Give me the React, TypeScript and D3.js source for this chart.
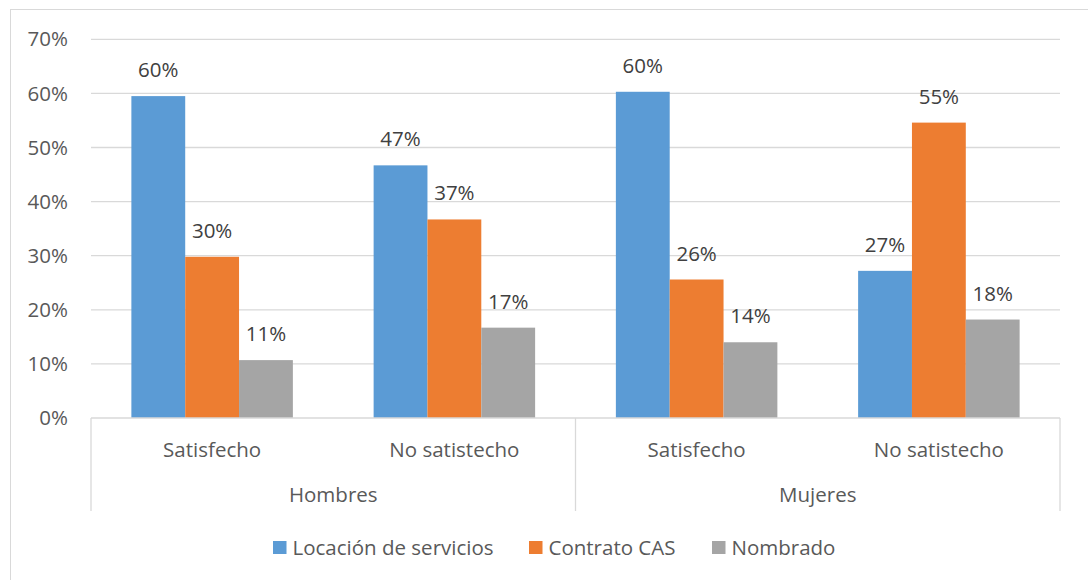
import React from "react";
import * as d3 from "d3";

const groups = ["Hombres", "Mujeres"];
const categories = ["Satisfecho", "No satistecho"];
const seriesNames = ["Locación de servicios", "Contrato CAS", "Nombrado"];
const seriesColors = ["#5b9bd5", "#ed7d31", "#a5a5a5"];
const locacion = [0.595, 0.467, 0.603, 0.272];
const contrato = [0.298, 0.367, 0.256, 0.546];
const nombrado = [0.107, 0.167, 0.14, 0.182];
const yTicks = [0, 0.1, 0.2, 0.3, 0.4, 0.5, 0.6, 0.7];

const W = 1088;
const H = 580;
const FONT = "'Open Sans', 'Noto Sans', sans-serif";
const TXT = "#595959";
const FS = 20.5;

export default function App() {
  const left = 91, right = 1060, top = 39.3, bottom = 418;
  const y = d3.scaleLinear().domain([0, 0.7]).range([bottom, top]);
  const slots = d3.range(groups.length * categories.length).map(String);
  const x0 = d3.scaleBand().domain(slots).range([left, right]).paddingInner(0).paddingOuter(0);
  const bw = x0.bandwidth();
  const inner = d3.scaleBand().domain(seriesNames).range([0, bw]).paddingInner(0).paddingOuter(0.75);
  const series = [locacion, contrato, nombrado];
  const gx = d3.scaleBand().domain(groups).range([left, right]);
  const fmt = d3.format(".0%");

  return (
    <svg width={W} height={H} style={{ position: "absolute", left: 0, top: 0 }} fontFamily={FONT}>
      <rect x={10.5} y={9.5} width={1090} height={580} fill="#fff" stroke="#d9d9d9" />
      {yTicks.map((t) => (
        <g key={t}>
          {t > 0 && <line x1={left} x2={right} y1={y(t)} y2={y(t)} stroke="#d9d9d9" strokeWidth={1.3} />}
          <text x={68} y={y(t)} dy="0.35em" textAnchor="end" fontSize={FS} fill={TXT}>
            {fmt(t)}
          </text>
        </g>
      ))}
      {slots.map((s, i) =>
        series.map((vals, k) => {
          const bx = (x0(s) as number) + (inner(seriesNames[k]) as number);
          const v = vals[i];
          return (
            <g key={s + "-" + k}>
              <rect x={bx} y={y(v)} width={inner.bandwidth()} height={bottom - y(v)} fill={seriesColors[k]} />
              <text x={bx + inner.bandwidth() / 2} y={y(v) - 19} textAnchor="middle" fontSize={FS} fill="#404040">
                {fmt(v)}
              </text>
            </g>
          );
        })
      )}
      <line x1={left} x2={right} y1={bottom} y2={bottom} stroke="#d9d9d9" strokeWidth={1.3} />
      {[left, gx("Mujeres") as number, right].map((xx, i) => (
        <line key={i} x1={xx} x2={xx} y1={bottom} y2={511} stroke="#d9d9d9" strokeWidth={1.3} />
      ))}
      {slots.map((s, i) => (
        <text key={s} x={(x0(s) as number) + bw / 2} y={450} dy="0.35em" textAnchor="middle" fontSize={FS} fill={TXT}>
          {categories[i % categories.length]}
        </text>
      ))}
      {groups.map((g) => (
        <text key={g} x={(gx(g) as number) + gx.bandwidth() / 2} y={495} dy="0.35em" textAnchor="middle" fontSize={FS} fill={TXT}>
          {g}
        </text>
      ))}
      {[273, 529, 712].map((lx, k) => (
        <g key={k} transform={`translate(${lx},547.5)`}>
          <rect x={0} y={-6.5} width={13.5} height={13} fill={seriesColors[k]} />
          <text x={19.5} y={0} dy="0.35em" fontSize={FS} fill={TXT}>
            {seriesNames[k]}
          </text>
        </g>
      ))}
    </svg>
  );
}
